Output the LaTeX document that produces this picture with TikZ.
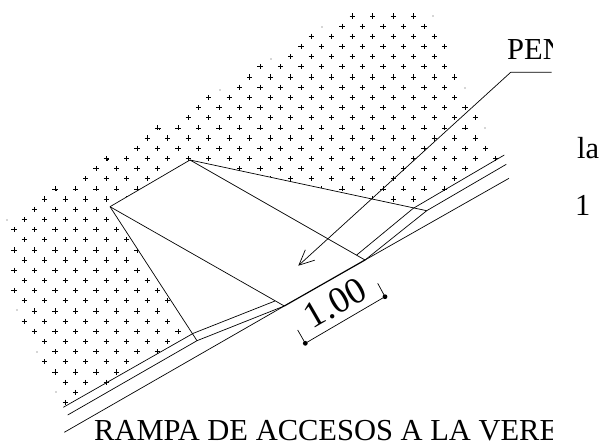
\documentclass[tikz,border=0pt]{standalone}
\usepackage{fontspec}
\setmainfont{Liberation Serif}
\usetikzlibrary{arrows.meta}
\tikzset{
    plusmark/.style={draw=black,line width=0.7pt},
    rampline/.style={draw=black,line width=0.7pt},
    speck/.style={fill=black!70},
    bigtext/.style={font=\fontsize{30.5}{31}\selectfont,inner sep=0pt},
}
\begin{document}
\begin{tikzpicture}[x=1pt,y=-1pt]
        \useasboundingbox (0,0) rectangle (600,441);
        % soil pattern
        \foreach \j/\kmin/\kmax in {0/33/39,1/32/40,2/29/41,3/28/42,4/27/41,5/24/42,6/23/43,7/22/42,8/19/43,9/18/44,
            10/17/45,11/14/44,12/13/45,13/12/46,14/9/47,15/8/44,16/7/43,17/4/42,18/3/39,19/2/8,
            20/1/9,21/0/10,22/1/11,23/0/12,24/1/11,25/0/12,26/1/13,27/0/14,28/1/15,29/2/14,
            30/1/15,31/2/16,32/3/15,33/4/14,34/3/11,35/4/10,36/5/9,37/6/6,38/5/5} {
            \foreach \k in {\kmin,...,\kmax} {
                \pgfmathparse{int(mod(\j+\k,2))}
                \ifnum\pgfmathresult=1
                    \draw[plusmark] ({14+10.25*\k-2.6},{16+10.17*\j}) -- ++(5.2,0)
                        ({14+10.25*\k},{16+10.17*\j-2.6}) -- ++(0,5.2);
                \fi
            }
        }
        % specks
        \foreach \sx/\sy in {433/16,322/27,271/59,220/90,465/88,485/128,37/352,17/310,56/392,7/220} {
            \fill[speck] (\sx,\sy) circle[radius=0.6];
        }
        \foreach \sx/\sy in {159/128,107/159,56/189} {
            \draw[plusmark] (\sx,\sy) -- ++(2.2,0) (\sx,\sy) -- ++(0,2.2);
        }
        \fill (336.7,215) circle[radius=0.6];
        \fill (256.7,261.7) circle[radius=0.6];
        % ramp surface
        \coordinate (backl) at (110,206.7);
        \coordinate (backr) at (190,160);
        \coordinate (edger) at (426.7,210.7);
        \coordinate (edgel) at (197,340.7);
        \coordinate (kerbr) at (365,260);
        \coordinate (kerbl) at (284.3,306);
        \fill[white] (backl) -- (backr) -- (edger) -- (kerbr) -- (kerbl) -- (edgel) -- cycle;
        \draw[rampline] (backl) -- (backr) -- (edger);
        \draw[rampline] (backr) -- (kerbr);
        \draw[rampline] (backl) -- (kerbl);
        \draw[rampline] (backl) -- (edgel);
        % road lines
        \draw[rampline] (63.3,407.3) -- (193.3,333.3) -- (275,301);
        \draw[rampline] (67.7,415) -- (edgel) -- (kerbl);
        \draw[rampline] (64.3,432.3) -- (kerbl);
        \draw[line width=1.2pt] (kerbl) -- (kerbr);
        \draw[rampline] (kerbr) -- (509,178.3);
        \draw[rampline] (356.7,255) -- (413.3,208.3) -- (504.3,155);
        \draw[rampline] (kerbr) -- (edger) -- (506.3,164.3);
        % slope arrow
        \draw[rampline,-{Straight Barb[length=15pt,width=14pt]}] (551.7,72.3) -- (510.7,72.3) -- (298.3,265.7);
        % dimension
        \fill (305.3,343.3) circle[radius=2.4];
        \fill (385,296.7) circle[radius=2.4];
        \draw[rampline] (297.7,330) -- (305.3,343.3) -- (385,296.7) -- (377.7,283.3);
        \node[font=\fontsize{37}{37}\selectfont,inner sep=0pt,rotate=30,black] (dimlabel) at (335,303) {1.00};
        % texts
        \begin{scope}
            \clip (0,0) rectangle (552,441);
            \node[bigtext,anchor=base west] (pentext) at (507,60) {PEN};
            \node[bigtext,anchor=base west] (titletext) at (94,440) {RAMPA DE ACCESOS A LA VERED};
        \end{scope}
        \node[bigtext,anchor=base west] (latext) at (577,159) {la};
        \node[bigtext,anchor=base west] (onetext) at (575,215) {1};
    \end{tikzpicture}
\end{document}
